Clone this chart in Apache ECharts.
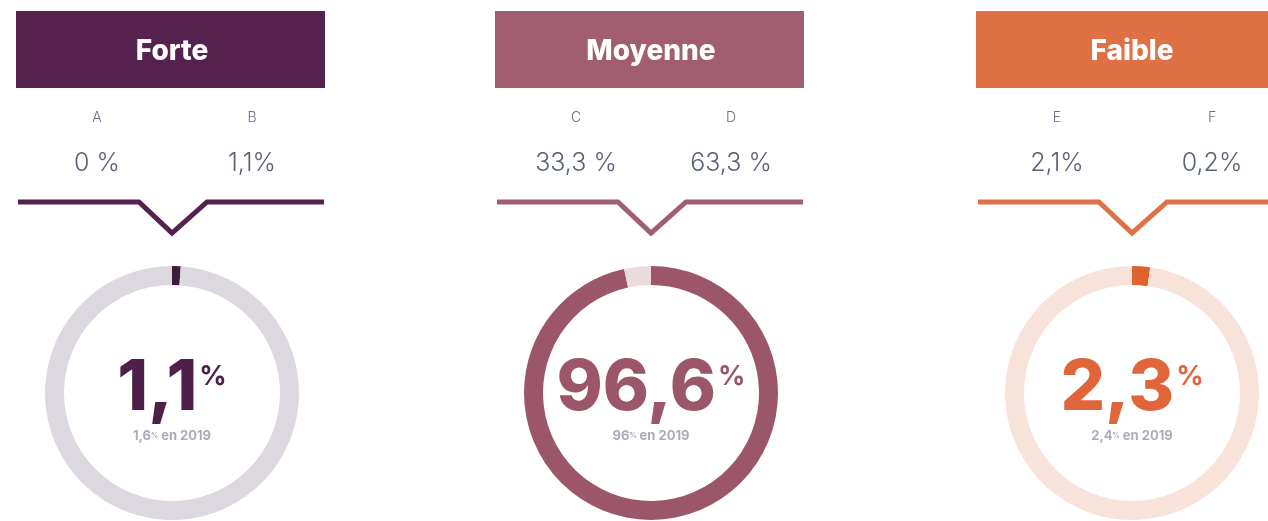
<!DOCTYPE html>
<html>
<head>
<meta charset="utf-8">
<script src="https://cdn.jsdelivr.net/npm/echarts@6/dist/echarts.min.js"></script>
<style>
  html, body { margin: 0; padding: 0; background: #fff; }
  #chart { width: 1268px; height: 521px; }
</style>
</head>
<body>
<div id="chart"></div>
<script>
// données
var groupes = ['Forte', 'Moyenne', 'Faible'];
var sousLettres = [['A', 'B'], ['C', 'D'], ['E', 'F']];
var sousValeurs = [['0 %', '1,1%'], ['33,3 %', '63,3 %'], ['2,1%', '0,2%']];
var totaux = [1.1, 96.6, 2.3];
var totaux2019 = [1.6, 96, 2.4];

// couleurs par groupe
var couleurs = ['#55214f', '#a05e70', '#e07145'];
var couleursAnneau = ['#3e1c3b', '#9c566a', '#e0622f'];
var couleursFond = ['#ddd7e0', '#ebdade', '#f8e3da'];
var couleursTexte = ['#4f1f4c', '#9b566a', '#e0653b'];

var centres = [172, 651, 1132];

function fr(v) {
	return String(v).replace('.', ',');
}

var myChart = echarts.init(document.getElementById('chart'));

var graphic = [];
var series = [];

for (var i = 0; i < groupes.length; i++) {
	var cx = centres[i];
	// bandeau titre
	graphic.push({
		type: 'rect',
		shape: { x: cx - 156, y: 11, width: 309, height: 77 },
		style: { fill: couleurs[i] },
		silent: true
	});
	graphic.push({
		type: 'text',
		x: cx, y: 52,
		style: {
			text: groupes[i], fill: '#fff', align: 'center', verticalAlign: 'middle',
			font: '800 28px Inter'
		},
		silent: true
	});
	// sous-catégories
	for (var k = 0; k < 2; k++) {
		var sx = cx + (k === 0 ? -75 : 80);
		graphic.push({
			type: 'text', x: sx, y: 118,
			style: { text: sousLettres[i][k], fill: '#6b7182', align: 'center', verticalAlign: 'middle', font: '300 14px Inter' },
			silent: true
		});
		graphic.push({
			type: 'text', x: sx, y: 163,
			style: { text: sousValeurs[i][k], fill: '#5a6275', align: 'center', verticalAlign: 'middle', font: '300 25px Inter' },
			silent: true
		});
	}
	// trait avec encoche
	graphic.push({
		type: 'polyline',
		shape: { points: [[cx - 154, 202], [cx - 33, 202], [cx, 233], [cx + 35, 202], [cx + 152, 202]] },
		style: { stroke: couleurs[i], lineWidth: 5, fill: null, lineJoin: 'miter' },
		silent: true
	});

	// anneau
	var rich = {
		a: { fontFamily: 'Inter', fontWeight: 800, fontSize: 70, color: couleursTexte[i], lineHeight: 74 },
		p: { fontFamily: 'Inter', fontWeight: 700, fontSize: 27, color: couleursTexte[i], verticalAlign: 'top', lineHeight: 27, padding: [11, 0, 0, 2] },
		s: { fontFamily: 'Inter', fontWeight: 700, fontSize: 13, color: '#a9acba', lineHeight: 20 },
		sp: { fontFamily: 'Inter', fontWeight: 700, fontSize: 7, color: '#a9acba', lineHeight: 20 }
	};
	series.push({
		type: 'pie',
		center: [cx, 393],
		radius: [108, 127],
		startAngle: 90,
		clockwise: true,
		silent: true,
		animation: false,
		emphasis: { disabled: true },
		labelLine: { show: false },
		itemStyle: { borderWidth: 0 },
		label: {
			show: true,
			position: 'center',
			padding: [12, 0, 0, 0],
			rich: rich,
			formatter: (function (t, t19) {
				return function () {
					return '{a|' + fr(t) + '}{p|%}\n{s|' + fr(t19) + '}{sp|%}{s| en 2019}';
				};
			})(totaux[i], totaux2019[i])
		},
		data: [
			{ value: totaux[i], itemStyle: { color: couleursAnneau[i] } },
			{ value: +(100 - totaux[i]).toFixed(1), itemStyle: { color: couleursFond[i] }, label: { show: false } }
		]
	});
}

var option = {
	backgroundColor: '#fff',
	graphic: graphic,
	series: series
};
myChart.setOption(option);
</script>
</body>
</html>
